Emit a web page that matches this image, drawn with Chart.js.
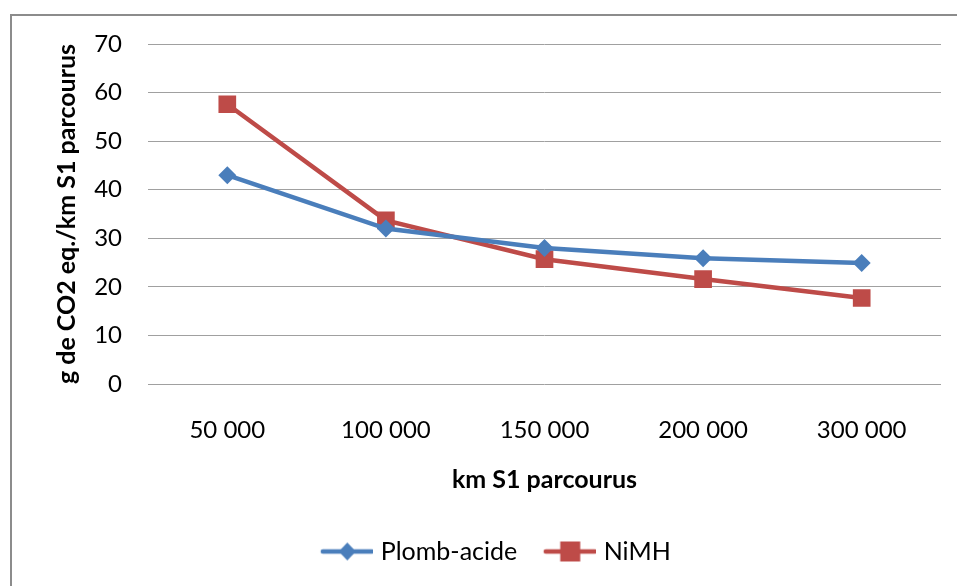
<!DOCTYPE html>
<html>
<head>
<meta charset="utf-8">
<script src="https://cdn.jsdelivr.net/npm/chart.js@4.4.1/dist/chart.umd.min.js"></script>
<style>
  html, body { margin: 0; padding: 0; background: #fff; }
  #wrap { width: 957px; height: 586px; position: relative; }
</style>
</head>
<body>
<div id="wrap"><canvas id="chart"></canvas></div>
<script>
const categories = ['50 000', '100 000', '150 000', '200 000', '300 000'];
const plombAcide = [43, 32, 28, 25.9, 24.9];
const nimh = [57.6, 33.7, 25.7, 21.6, 17.7];
const yTicks = [0, 10, 20, 30, 40, 50, 60, 70];

const blue = '#4a7ebb';
const red = '#be4b48';
const font = 'Lato, "Open Sans", sans-serif';

// line + marker image for a legend entry; a bit wider than the legend box
// so the line runs close to the label text
function legendIcon(color, shape) {
    const c = document.createElement('canvas');
    c.width = 57; c.height = 22;
    const g = c.getContext('2d');
    g.strokeStyle = color;
    g.lineWidth = 4.5;
    g.lineCap = 'round';
    g.beginPath(); g.moveTo(7, 11); g.lineTo(56, 11); g.stroke();
    g.fillStyle = color;
    const cx = 31.5;
    if (shape === 'diamond') {
        g.beginPath();
        g.moveTo(cx, 2); g.lineTo(cx + 8.5, 11); g.lineTo(cx, 20); g.lineTo(cx - 8.5, 11);
        g.closePath(); g.fill();
    } else {
        g.fillRect(cx - 10, 1, 20, 20);
    }
    return c;
}

// grey frame around the whole chart
const frame = {
    id: 'frame',
    beforeDraw(chart) {
        const ctx = chart.ctx;
        ctx.save();
        ctx.strokeStyle = '#8c8c8c';
        ctx.lineWidth = 2;
        ctx.strokeRect(11, 15, 960, 600);
        ctx.restore();
    }
};

// legend sits centred on the whole frame, not on the plot
const legendShift = {
    id: 'legendShift',
    afterLayout(chart) {
        chart.legend.left += 25;
        chart.legend.right += 25;
    }
};

const ctx = document.getElementById('chart').getContext('2d');
const myChart = new Chart(ctx, {
    type: 'line',
    data: {
        labels: categories,
        datasets: [{
            label: 'Plomb-acide',
            data: plombAcide,
            borderColor: blue,
            backgroundColor: blue,
            borderWidth: 4.5,
            pointStyle: 'rectRot',
            pointRadius: 9,
            pointHoverRadius: 9,
            pointBorderWidth: 0,
            tension: 0
        }, {
            label: 'NiMH',
            data: nimh,
            borderColor: red,
            backgroundColor: red,
            borderWidth: 4.5,
            pointStyle: 'rect',
            pointRadius: 12.5,
            pointHoverRadius: 12.5,
            pointBorderWidth: 0,
            tension: 0
        }]
    },
    options: {
        responsive: true,
        maintainAspectRatio: false,
        animation: false,
        devicePixelRatio: 1,
        layout: {
            padding: { left: 0, right: 16, top: 44, bottom: 12 }
        },
        plugins: {
            tooltip: { enabled: false },
            legend: {
                position: 'bottom',
                labels: {
                    usePointStyle: true,
                    pointStyleWidth: 48,
                    generateLabels(chart) {
                        return chart.data.datasets.map((ds, i) => ({
                            text: ds.label,
                            datasetIndex: i,
                            pointStyle: legendIcon(ds.borderColor, i === 0 ? 'diamond' : 'square'),
                            fontColor: '#000',
                            lineWidth: 0,
                            strokeStyle: 'transparent',
                            fillStyle: 'transparent'
                        }));
                    },
                    color: '#000',
                    padding: 26,
                    font: { family: font, size: 25 }
                }
            }
        },
        scales: {
            x: {
                offset: true,
                afterFit(scale) { scale.height = 129; },
                grid: { display: false, drawTicks: false },
                border: { display: false },
                ticks: {
                    color: '#000',
                    padding: 32,
                    font: { family: font, size: 24 }
                },
                title: {
                    display: true,
                    text: 'km S1 parcourus',
                    color: '#000',
                    padding: { top: 22, bottom: 18 },
                    font: { family: font, size: 25, weight: 'bold' }
                }
            },
            y: {
                min: 0,
                max: 70,
                afterFit(scale) { scale.width = 148; },
                afterBuildTicks(scale) { scale.ticks = yTicks.map(v => ({ value: v })); },
                grid: { color: '#a0a0a0', lineWidth: 1, drawTicks: false },
                border: { display: false },
                ticks: {
                    color: '#000',
                    padding: 26,
                    font: { family: font, size: 24 }
                },
                title: {
                    display: true,
                    text: 'g de CO2 eq./km S1 parcourus',
                    color: '#000',
                    padding: { top: 52, bottom: 0 },
                    font: { family: font, size: 25, weight: 'bold' }
                }
            }
        }
    },
    plugins: [frame, legendShift]
});
</script>
</body>
</html>
